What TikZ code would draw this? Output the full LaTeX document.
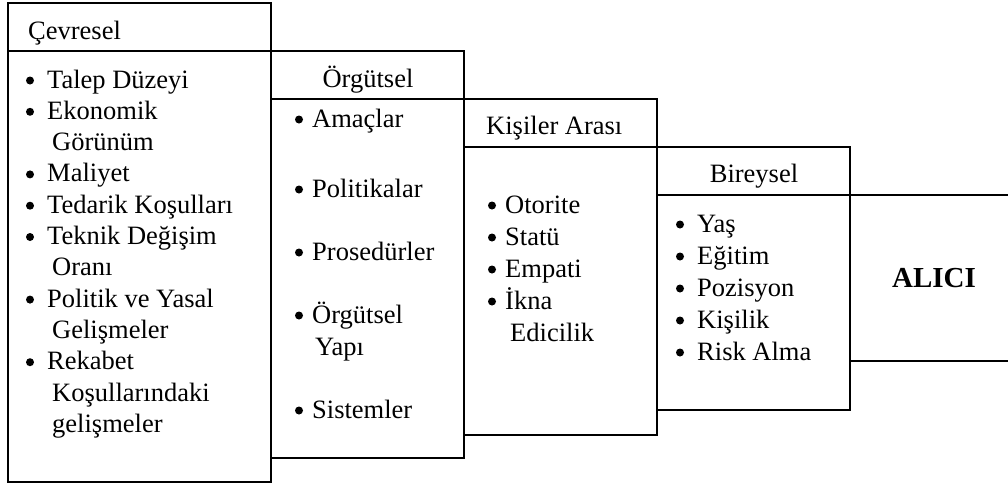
\documentclass[tikz,border=0pt]{standalone}
\usepackage{fontspec}
\setmainfont{Liberation Serif}
\usetikzlibrary{calc}
\begin{document}
\begin{tikzpicture}[x=1pt,y=-1pt,
  frame/.style={line width=1.6pt, line cap=rect},
  txt/.style={anchor=base west, inner sep=0pt, font=\fontsize{26.5}{31}\selectfont},
  head/.style={txt},
  headc/.style={txt, anchor=base},
  dot/.style={fill=black}]
\useasboundingbox (0,0) rectangle (1008,485);

% frames of the four stacked boxes and the open box on the right
\draw[frame] (8,3) rectangle (271,482);
\draw[frame] (8,51) -- (271,51);
\draw[frame] (271,51) rectangle (464,458);
\draw[frame] (271,99) -- (464,99);
\draw[frame] (464,99) rectangle (657,435);
\draw[frame] (464,147) -- (657,147);
\draw[frame] (657,147) rectangle (850,410);
\draw[frame] (657,195) -- (850,195);
\draw[frame] (850,195) -- (1008,195);
\draw[frame] (850,361) -- (1008,361);

% Çevresel
\node[head] (h1) at (28,39) {Çevresel};
\node[txt] (a1) at (47,88) {Talep Düzeyi};
\node[txt] (a2) at (47,119.3) {Ekonomik};
\node[txt] (a3) at (52,150.6) {Görünüm};
\node[txt] (a4) at (47,181.9) {Maliyet};
\node[txt] (a5) at (47,213.2) {Tedarik Koşulları};
\node[txt] (a6) at (47,244.5) {Teknik Değişim};
\node[txt] (a7) at (52,275.8) {Oranı};
\node[txt] (a8) at (47,307.1) {Politik ve Yasal};
\node[txt] (a9) at (52,338.4) {Gelişmeler};
\node[txt] (a10) at (47,369.7) {Rekabet};
\node[txt] (a11) at (52,401) {Koşullarındaki};
\node[txt] (a12) at (52,432.3) {gelişmeler};

% Örgütsel
\node[headc] (h2) at (368,87) {Örgütsel};
\node[txt] (b1) at (312,127) {Amaçlar};
\node[txt] (b2) at (312,197) {Politikalar};
\node[txt] (b3) at (312,260) {Prosedürler};
\node[txt] (b4) at (312,323) {Örgütsel};
\node[txt] (b5) at (315,355) {Yapı};
\node[txt] (b6) at (312,418) {Sistemler};

% Kişiler Arası
\node[head] (h3) at (486,134) {Kişiler Arası};
\node[txt] (c1) at (505,213) {Otorite};
\node[txt] (c2) at (505,245) {Statü};
\node[txt] (c3) at (505,277) {Empati};
\node[txt] (c4) at (505,309) {İkna};
\node[txt] (c5) at (510,341) {Edicilik};

% Bireysel
\node[headc] (h4) at (754,182) {Bireysel};
\node[txt] (d1) at (697,232) {Yaş};
\node[txt] (d2) at (697,264) {Eğitim};
\node[txt] (d3) at (697,296) {Pozisyon};
\node[txt] (d4) at (697,328) {Kişilik};
\node[txt] (d5) at (697,360) {Risk Alma};

% bullets in front of the list items
\foreach \n in {a1,a2,a4,a5,a6,a8,a10,d1,d2,d3,d4,d5}
  \fill[dot] ($(\n.base west)+(-17,-7.5)$) circle (4pt);
\foreach \n in {b1,b2,b3,b4,b6,c1,c2,c3,c4}
  \fill[dot] ($(\n.base west)+(-13,-7.5)$) circle (4pt);

% buyer
\node[anchor=base, inner sep=0pt, font=\fontsize{29}{33}\selectfont\bfseries] (alici) at (934,287) {ALICI};
\end{tikzpicture}
\end{document}
